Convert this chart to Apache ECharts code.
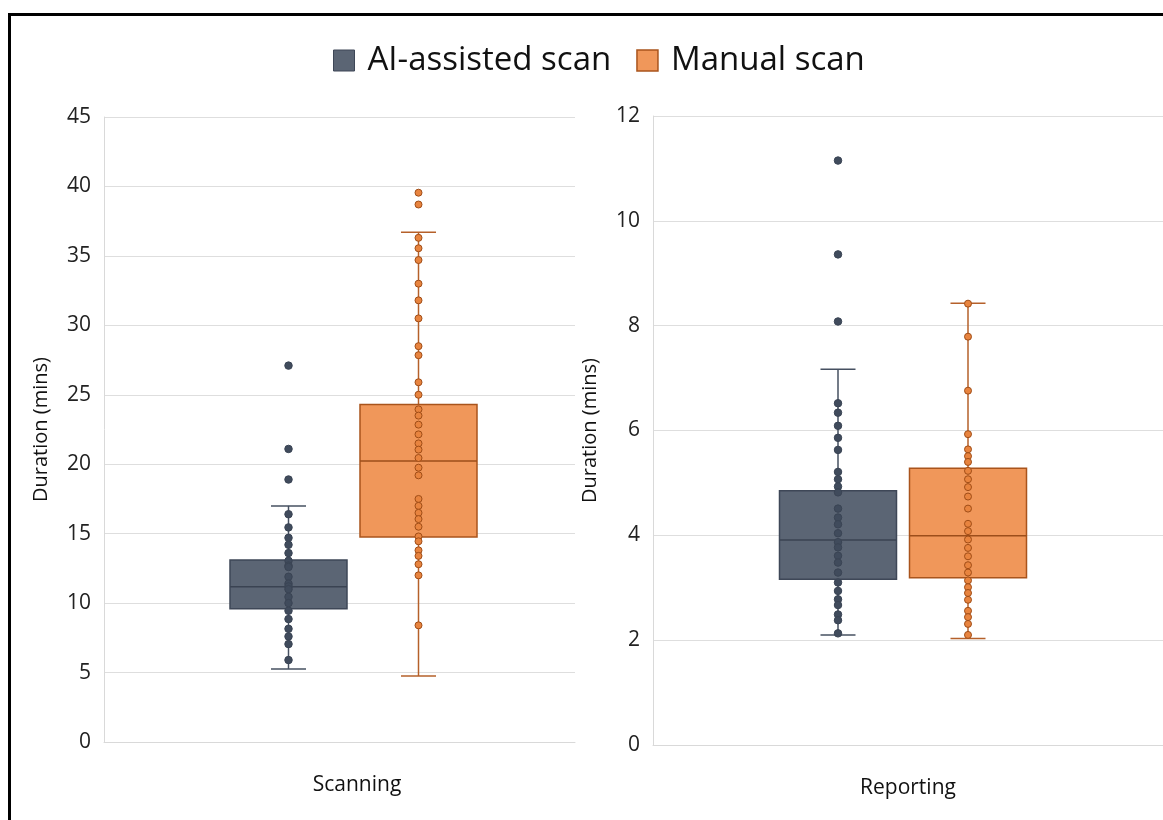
<!DOCTYPE html>
<html>
<head>
<meta charset="utf-8">
<script src="https://cdn.jsdelivr.net/npm/echarts@6/dist/echarts.min.js"></script>
<style>
  html, body { margin: 0; padding: 0; background: #fff; }
  #chart { width: 1163px; height: 820px; }
</style>
</head>
<body>
<div id="chart"></div>
<script>
// ---------------- data ----------------
const groups = ['AI-assisted scan', 'Manual scan'];
const panels = ['Scanning', 'Reporting'];

// box statistics: [min, Q1, median, Q3, max]
const scanAIStats      = [5.26, 9.6, 11.18, 13.1, 17.0];
const scanManualStats  = [4.75, 14.76, 20.23, 24.3, 36.7];
const reportAIStats    = [2.10, 3.16, 3.91, 4.85, 7.17];
const reportManualStats= [2.03, 3.19, 3.99, 5.28, 8.43];

// individual observations (minutes)
const scanAIPoints = [27.1, 21.1, 18.9, 16.4, 15.45, 14.7, 14.2, 13.6, 13.05, 12.7, 12.6, 11.9,
  11.4, 11.2, 11.0, 10.45, 10.0, 9.45, 8.85, 8.15, 7.6, 7.05, 5.9];
const scanManualPoints = [39.55, 38.7, 36.3, 35.55, 34.7, 33.0, 31.8, 30.5, 28.5, 27.85, 25.9,
  25.0, 23.95, 23.5, 22.85, 22.15, 21.5, 21.05, 20.45, 19.75, 19.2, 17.5, 17.0, 16.5, 16.05,
  15.5, 14.8, 14.45, 13.8, 13.4, 12.8, 12.0, 8.4];
const reportAIPoints = [11.15, 9.36, 8.08, 6.52, 6.34, 6.09, 5.86, 5.63, 5.21, 5.07, 4.93, 4.82,
  4.51, 4.34, 4.21, 4.04, 3.87, 3.77, 3.61, 3.48, 3.29, 3.10, 2.94, 2.78, 2.67, 2.49, 2.38, 2.13];
const reportManualPoints = [8.42, 7.79, 6.76, 5.93, 5.64, 5.51, 5.40, 5.23, 5.07, 4.92, 4.74,
  4.51, 4.22, 4.08, 3.92, 3.76, 3.60, 3.43, 3.29, 3.14, 3.01, 2.90, 2.77, 2.56, 2.44, 2.31, 2.10];

const yTicksScan = { min: 0, max: 45, interval: 5 };
const yTicksReport = { min: 0, max: 12, interval: 2 };

// ---------------- styles / layout ----------------
const FONT = '"Open Sans", "DejaVu Sans", sans-serif';
const style = {
  'AI-assisted scan': {
    fill: '#5b6574', border: '#3e4757', median: '#3a4352', whisker: '#465061',
    dot: '#404b5c', dotBorder: '#3a4454'
  },
  'Manual scan': {
    fill: '#f0975a', border: '#a9541c', median: '#9c4e1b', whisker: '#b5602a',
    dot: '#e8843f', dotBorder: '#a04d17'
  }
};
// horizontal pixel offsets of each group's box from the category centre, per panel
const offsets = [[-51, 79], [-70, 60]];
const BOX_W = 117, CAP_W = 35;

function makeBoxRender(off, st) {
  return function (params, api) {
    const x = api.value(0);
    const pMin = api.coord([x, api.value(1)]);
    const pQ1  = api.coord([x, api.value(2)]);
    const pMed = api.coord([x, api.value(3)]);
    const pQ3  = api.coord([x, api.value(4)]);
    const pMax = api.coord([x, api.value(5)]);
    const cx = pMed[0] + off;
    const lineStyle = { stroke: st.whisker, lineWidth: 1.5 };
    return {
      type: 'group',
      children: [
        { type: 'line', shape: { x1: cx, y1: pQ3[1], x2: cx, y2: pMax[1] }, style: lineStyle },
        { type: 'line', shape: { x1: cx, y1: pQ1[1], x2: cx, y2: pMin[1] }, style: lineStyle },
        { type: 'line', shape: { x1: cx - CAP_W / 2, y1: pMax[1], x2: cx + CAP_W / 2, y2: pMax[1] }, style: lineStyle },
        { type: 'line', shape: { x1: cx - CAP_W / 2, y1: pMin[1], x2: cx + CAP_W / 2, y2: pMin[1] }, style: lineStyle },
        { type: 'rect', shape: { x: cx - BOX_W / 2, y: pQ3[1], width: BOX_W, height: pQ1[1] - pQ3[1] },
          style: { fill: st.fill, stroke: st.border, lineWidth: 1.5 } },
        { type: 'line', shape: { x1: cx - BOX_W / 2, y1: pMed[1], x2: cx + BOX_W / 2, y2: pMed[1] },
          style: { stroke: st.median, lineWidth: 1.5 } }
      ]
    };
  };
}

const statsByPanel = [[scanAIStats, scanManualStats], [reportAIStats, reportManualStats]];
const pointsByPanel = [[scanAIPoints, scanManualPoints], [reportAIPoints, reportManualPoints]];

const series = [];
panels.forEach(function (panel, pi) {
  groups.forEach(function (g, gi) {
    const st = style[g];
    series.push({
      type: 'custom', name: g, xAxisIndex: pi, yAxisIndex: pi,
      data: [[0].concat(statsByPanel[pi][gi])],
      encode: { x: 0, y: [1, 2, 3, 4, 5] },
      renderItem: makeBoxRender(offsets[pi][gi], st),
      itemStyle: { color: st.fill },
      z: 2, silent: true
    });
  });
  groups.forEach(function (g, gi) {
    const st = style[g];
    series.push({
      type: 'scatter', name: g, xAxisIndex: pi, yAxisIndex: pi,
      data: pointsByPanel[pi][gi].map(function (v) { return [0, v]; }),
      symbol: 'circle', symbolSize: gi === 0 ? 7.5 : 7,
      symbolOffset: [offsets[pi][gi], 0],
      itemStyle: { color: st.dot, borderColor: st.dotBorder, borderWidth: 1, opacity: 1 },
      z: 5, silent: true
    });
  });
});

function yAxis(gridIndex, ticks) {
  return {
    type: 'value', gridIndex: gridIndex,
    min: ticks.min, max: ticks.max, interval: ticks.interval,
    name: 'Duration (mins)', nameLocation: 'middle', nameGap: 53,
    nameTextStyle: { fontFamily: FONT, fontSize: 20, color: '#111' },
    axisLine: { show: true, lineStyle: { color: '#d9d9d9', width: 1 } },
    axisTick: { show: false },
    axisLabel: { fontFamily: FONT, fontSize: 21, color: '#222', margin: 13 },
    splitLine: { show: true, lineStyle: { color: '#dedede', width: 1 } }
  };
}
function xAxis(gridIndex, name, pad) {
  return {
    type: 'category', gridIndex: gridIndex, data: [name], boundaryGap: true,
    axisLine: { show: true, lineStyle: { color: '#d9d9d9', width: 1 } },
    axisTick: { show: false },
    axisLabel: { fontFamily: FONT, fontSize: 21, color: '#111', margin: 33, padding: [0, 0, 0, pad] },
    splitLine: { show: false }
  };
}

const option = {
  animation: false,
  backgroundColor: '#fff',
  textStyle: { fontFamily: FONT },
  legend: {
    top: 39, left: 328, itemWidth: 21, itemHeight: 21, itemGap: 25,
    selectedMode: false,
    textStyle: { fontFamily: FONT, fontSize: 33, color: '#111', padding: [0, 0, 0, 8] },
    data: [
      { name: 'AI-assisted scan', icon: 'rect', itemStyle: { color: '#5b6574', borderColor: '#3e4757', borderWidth: 1 } },
      { name: 'Manual scan', icon: 'rect', itemStyle: { color: '#f0975a', borderColor: '#a9541c', borderWidth: 1.5 } }
    ]
  },
  grid: [
    { left: 104, top: 117, width: 471, height: 625 },
    { left: 653, top: 116, width: 510, height: 629 }
  ],
  xAxis: [xAxis(0, panels[0], 35), xAxis(1, panels[1], 0)],
  yAxis: [yAxis(0, yTicksScan), yAxis(1, yTicksReport)],
  series: series,
  graphic: [{
    type: 'rect', silent: true, z: 100,
    shape: { x: 9.5, y: 14.5, width: 1300, height: 1000 },
    style: { fill: 'none', stroke: '#000', lineWidth: 3 }
  }]
};

const chart = echarts.init(document.getElementById('chart'), null, { renderer: 'canvas' });
chart.setOption(option);
</script>
</body>
</html>
